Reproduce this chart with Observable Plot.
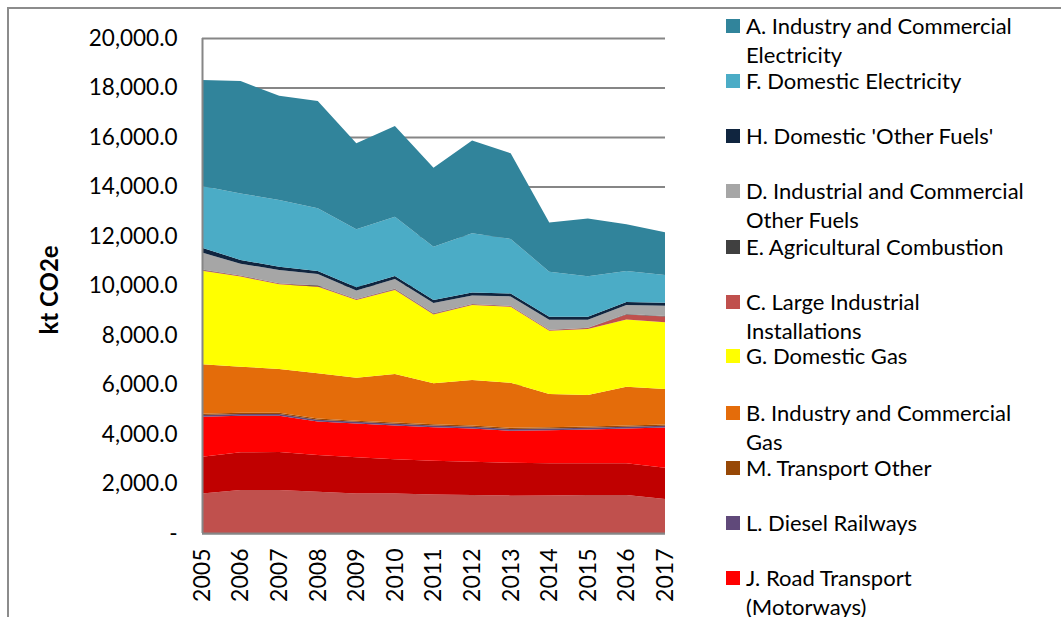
<!DOCTYPE html>
<html>
<head>
<meta charset="utf-8">
<script src="https://cdn.jsdelivr.net/npm/d3@7"></script>
<script src="https://cdn.jsdelivr.net/npm/@observablehq/plot@0.6"></script>
<style>
  html, body { margin: 0; padding: 0; background: #fff; overflow: hidden; }
  body { width: 1061px; height: 617px; position: relative; font-family: Lato, "Open Sans", sans-serif; }
  #frame { position: absolute; left: 7px; top: 7px; width: 1200px; height: 800px; border: 2px solid #8c8c8c; box-sizing: border-box; }
  #chart { position: absolute; left: 0; top: 0; }
  #legend { position: absolute; left: 0; top: 0; }
  .item { position: absolute; left: 726px; font-size: 22px; line-height: 29px; color: #000; }
  .sw { position: absolute; left: 0; top: 8px; width: 14px; height: 14px; }
  .lab { position: absolute; left: 20px; top: 0; width: 286px; }
</style>
</head>
<body>
<div id="frame"></div>
<div id="chart"></div>
<div id="legend"></div>
<script>
const years = [2005, 2006, 2007, 2008, 2009, 2010, 2011, 2012, 2013, 2014, 2015, 2016, 2017];

// Series listed from the bottom of the stack to the top
const seriesNames = [
  "K. Road Transport (Minor roads)",
  "I. Road Transport (A roads)",
  "J. Road Transport (Motorways)",
  "L. Diesel Railways",
  "M. Transport Other",
  "B. Industry and Commercial Gas",
  "G. Domestic Gas",
  "C. Large Industrial Installations",
  "E. Agricultural Combustion",
  "D. Industrial and Commercial Other Fuels",
  "H. Domestic 'Other Fuels'",
  "F. Domestic Electricity",
  "A. Industry and Commercial Electricity"
];
const seriesColors = [
  "#c0504d", "#c00000", "#ff0000", "#60497a", "#974806", "#e46c0a", "#ffff00",
  "#c0504d", "#404040", "#a6a6a6", "#10253f", "#4bacc6", "#31849b"
];

const K = [1600, 1740, 1740, 1670, 1600, 1600, 1560, 1535, 1510, 1520, 1535, 1535, 1375];
const I = [1485, 1520, 1530, 1480, 1460, 1380, 1360, 1345, 1330, 1295, 1280, 1280, 1265];
const J = [1615, 1480, 1470, 1360, 1360, 1360, 1350, 1340, 1290, 1335, 1365, 1405, 1620];
const L = [70, 70, 70, 70, 70, 70, 70, 70, 70, 70, 70, 70, 70];
const M = [50, 50, 50, 50, 50, 50, 50, 50, 50, 50, 50, 50, 50];
const B = [1995, 1860, 1765, 1820, 1735, 1965, 1660, 1840, 1820, 1345, 1275, 1570, 1440];
const G = [3785, 3640, 3425, 3500, 3135, 3395, 2780, 3030, 3070, 2555, 2665, 2720, 2700];
const C = [30, 30, 30, 30, 30, 30, 30, 30, 30, 30, 40, 200, 230];
const E = [15, 15, 15, 15, 15, 15, 15, 15, 15, 15, 15, 15, 15];
const D = [685, 475, 535, 465, 345, 395, 415, 345, 375, 405, 325, 365, 415];
const H = [200, 150, 130, 130, 130, 120, 120, 120, 120, 120, 120, 120, 120];
const F = [2490, 2690, 2690, 2530, 2340, 2400, 2160, 2390, 2200, 1820, 1630, 1260, 1120];
const A = [4280, 4540, 4220, 4330, 3480, 3660, 3190, 3750, 3460, 1990, 2340, 1880, 1730];

const seriesValues = [K, I, J, L, M, B, G, C, E, D, H, F, A];

const yTicks = [0, 2000, 4000, 6000, 8000, 10000, 12000, 14000, 16000, 18000, 20000];
const yLabel = "kt CO2e";

// long-format table
const data = [];
seriesNames.forEach((name, si) => {
  years.forEach((yr, yi) => data.push({series: name, year: yr, value: seriesValues[si][yi]}));
});

const fmt = d3.format(",.1f");
const plot = Plot.plot({
  width: 1061,
  height: 617,
  marginLeft: 202,
  marginRight: 396,
  marginTop: 38,
  marginBottom: 84,
  style: {fontFamily: "Lato, 'Open Sans', sans-serif", fontSize: "22px", color: "#000", background: "transparent"},
  x: {type: "linear", domain: [2005, 2017]},
  y: {domain: [0, 20000]},
  color: {domain: seriesNames, range: seriesColors},
  marks: [
    Plot.gridY(yTicks, {stroke: "#868686", strokeOpacity: 1, strokeWidth: 2}),
    Plot.areaY(data, {x: "year", y: "value", z: "series", fill: "series", order: seriesNames, curve: "linear"}),
    Plot.ruleX([2005], {stroke: "#868686", strokeWidth: 2}),
    Plot.ruleY([0], {stroke: "#868686", strokeWidth: 2}),
    Plot.axisY(yTicks, {tickSize: 0, tickPadding: 25, tickFormat: d => d === 0 ? "-" : fmt(d), label: null, fontSize: 22.5}),
    Plot.axisX(years, {tickSize: 0, tickPadding: 15, tickRotate: -90, tickFormat: d => String(d), label: null, fontSize: 23}),
    Plot.text([yLabel], {frameAnchor: "left", textAnchor: "middle", dx: -152, dy: 4, rotate: -90, fontWeight: "bold", fontSize: 24})
  ]
});
document.getElementById("chart").appendChild(plot);

// Legend: top of stack first (the items below J fall outside the picture)
const legendTops = [11, 66, 121, 176, 232, 287, 341, 398, 453, 508, 563];
const leg = document.getElementById("legend");
const order = seriesNames.map((n, i) => i).reverse().slice(0, legendTops.length);
order.forEach((si, k) => {
  const it = document.createElement("div");
  it.className = "item";
  it.style.top = legendTops[k] + "px";
  const sw = document.createElement("div");
  sw.className = "sw";
  sw.style.background = seriesColors[si];
  const lab = document.createElement("div");
  lab.className = "lab";
  lab.textContent = seriesNames[si];
  it.appendChild(sw);
  it.appendChild(lab);
  leg.appendChild(it);
});
</script>
</body>
</html>
